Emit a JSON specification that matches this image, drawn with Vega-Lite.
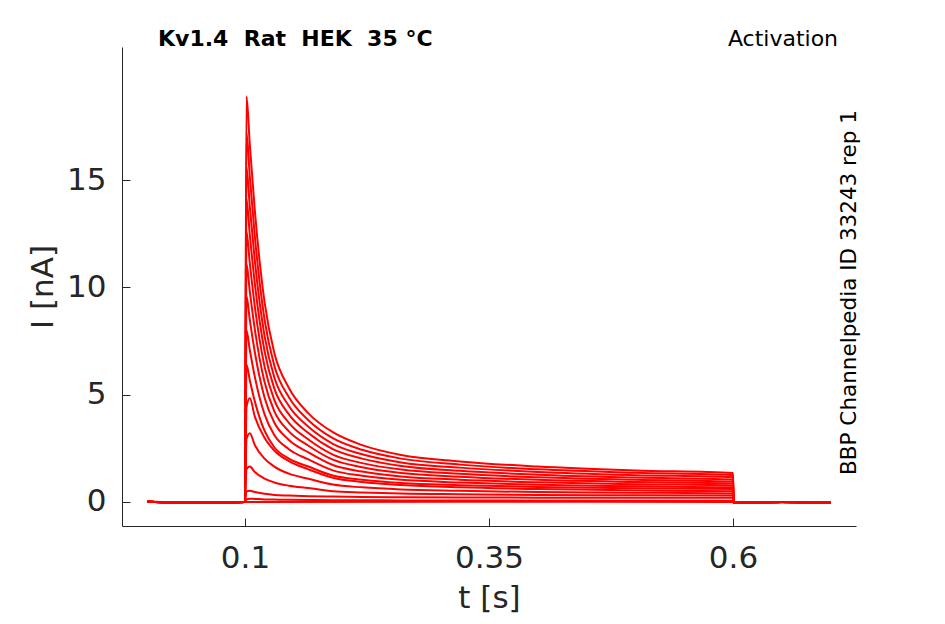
{
  "$schema": "https://vega.github.io/schema/vega-lite/v6.json",
  "width": 734,
  "height": 479,
  "autosize": "none",
  "padding": {"left": 122, "top": 47, "right": 89, "bottom": 98},
  "background": "white",
  "config": {
    "view": {"stroke": null},
    "axis": {
      "grid": false,
      "domainColor": "#262626",
      "domainWidth": 1,
      "tickColor": "#262626",
      "tickSize": -8,
      "labelColor": "#262626",
      "titleColor": "#262626",
      "labelFont": "DejaVu Sans",
      "titleFont": "DejaVu Sans",
      "labelFontSize": 31,
      "titleFontSize": 31,
      "titleFontWeight": "normal"
    }
  },
  "layer": [
    {
      "data": {
        "values": [
          {"k": 0, "t": 0, "i": 0.02}, {"k": 0, "t": 0.05, "i": -0.03}, {"k": 0, "t": 0.1, "i": 0}, {"k": 0, "t": 0.3, "i": 0.01}, {"k": 0, "t": 0.6, "i": 0}, {"k": 0, "t": 0.65, "i": -0.02}, {"k": 0, "t": 0.7, "i": 0},

          {"k": 1, "t": 0, "i": 0.01}, {"k": 1, "t": 0.05, "i": -0.04}, {"k": 1, "t": 0.1, "i": 0},
          {"k": 1, "t": 0.1015, "i": 0.12}, {"k": 1, "t": 0.105, "i": 0.15}, {"k": 1, "t": 0.11, "i": 0.14}, {"k": 1, "t": 0.12, "i": 0.12}, {"k": 1, "t": 0.13, "i": 0.11}, {"k": 1, "t": 0.145, "i": 0.10}, {"k": 1, "t": 0.165, "i": 0.09}, {"k": 1, "t": 0.19, "i": 0.08}, {"k": 1, "t": 0.22, "i": 0.08}, {"k": 1, "t": 0.26, "i": 0.07}, {"k": 1, "t": 0.32, "i": 0.07}, {"k": 1, "t": 0.4, "i": 0.06}, {"k": 1, "t": 0.5, "i": 0.06}, {"k": 1, "t": 0.6, "i": 0.06},
          {"k": 1, "t": 0.6005, "i": -0.04}, {"k": 1, "t": 0.65, "i": 0}, {"k": 1, "t": 0.7, "i": -0.03},

          {"k": 2, "t": 0, "i": 0.01}, {"k": 2, "t": 0.05, "i": -0.04}, {"k": 2, "t": 0.1, "i": 0},
          {"k": 2, "t": 0.1015, "i": 0.49}, {"k": 2, "t": 0.105, "i": 0.52}, {"k": 2, "t": 0.11, "i": 0.46}, {"k": 2, "t": 0.12, "i": 0.38}, {"k": 2, "t": 0.13, "i": 0.33}, {"k": 2, "t": 0.145, "i": 0.30}, {"k": 2, "t": 0.165, "i": 0.27}, {"k": 2, "t": 0.19, "i": 0.25}, {"k": 2, "t": 0.22, "i": 0.23}, {"k": 2, "t": 0.26, "i": 0.22}, {"k": 2, "t": 0.32, "i": 0.21}, {"k": 2, "t": 0.4, "i": 0.20}, {"k": 2, "t": 0.5, "i": 0.20}, {"k": 2, "t": 0.6, "i": 0.20},
          {"k": 2, "t": 0.6005, "i": -0.04}, {"k": 2, "t": 0.65, "i": 0}, {"k": 2, "t": 0.7, "i": -0.03},

          {"k": 3, "t": 0, "i": 0.01}, {"k": 3, "t": 0.05, "i": -0.04}, {"k": 3, "t": 0.1, "i": 0},
          {"k": 3, "t": 0.1015, "i": 1.52}, {"k": 3, "t": 0.105, "i": 1.65}, {"k": 3, "t": 0.11, "i": 1.40}, {"k": 3, "t": 0.12, "i": 1.09}, {"k": 3, "t": 0.13, "i": 0.91}, {"k": 3, "t": 0.145, "i": 0.76}, {"k": 3, "t": 0.165, "i": 0.65}, {"k": 3, "t": 0.19, "i": 0.50}, {"k": 3, "t": 0.22, "i": 0.44}, {"k": 3, "t": 0.26, "i": 0.39}, {"k": 3, "t": 0.32, "i": 0.36}, {"k": 3, "t": 0.4, "i": 0.33}, {"k": 3, "t": 0.5, "i": 0.31}, {"k": 3, "t": 0.6, "i": 0.30},
          {"k": 3, "t": 0.6005, "i": -0.04}, {"k": 3, "t": 0.65, "i": 0}, {"k": 3, "t": 0.7, "i": -0.03},

          {"k": 4, "t": 0, "i": 0.01}, {"k": 4, "t": 0.05, "i": -0.04}, {"k": 4, "t": 0.1, "i": 0},
          {"k": 4, "t": 0.1015, "i": 2.93}, {"k": 4, "t": 0.105, "i": 3.2}, {"k": 4, "t": 0.11, "i": 2.66}, {"k": 4, "t": 0.12, "i": 2.02}, {"k": 4, "t": 0.13, "i": 1.65}, {"k": 4, "t": 0.145, "i": 1.32}, {"k": 4, "t": 0.165, "i": 1.08}, {"k": 4, "t": 0.19, "i": 0.81}, {"k": 4, "t": 0.22, "i": 0.68}, {"k": 4, "t": 0.26, "i": 0.58}, {"k": 4, "t": 0.32, "i": 0.52}, {"k": 4, "t": 0.4, "i": 0.46}, {"k": 4, "t": 0.5, "i": 0.43}, {"k": 4, "t": 0.6, "i": 0.40},
          {"k": 4, "t": 0.6005, "i": -0.04}, {"k": 4, "t": 0.65, "i": 0}, {"k": 4, "t": 0.7, "i": -0.03},

          {"k": 5, "t": 0, "i": 0.01}, {"k": 5, "t": 0.05, "i": -0.04}, {"k": 5, "t": 0.1, "i": 0},
          {"k": 5, "t": 0.1015, "i": 4.41}, {"k": 5, "t": 0.105, "i": 4.83}, {"k": 5, "t": 0.11, "i": 3.99}, {"k": 5, "t": 0.12, "i": 2.99}, {"k": 5, "t": 0.13, "i": 2.40}, {"k": 5, "t": 0.145, "i": 1.90}, {"k": 5, "t": 0.165, "i": 1.52}, {"k": 5, "t": 0.19, "i": 1.13}, {"k": 5, "t": 0.22, "i": 0.93}, {"k": 5, "t": 0.26, "i": 0.79}, {"k": 5, "t": 0.32, "i": 0.68}, {"k": 5, "t": 0.4, "i": 0.60}, {"k": 5, "t": 0.5, "i": 0.54}, {"k": 5, "t": 0.6, "i": 0.50},
          {"k": 5, "t": 0.6005, "i": -0.04}, {"k": 5, "t": 0.65, "i": 0}, {"k": 5, "t": 0.7, "i": -0.03},

          {"k": 6, "t": 0, "i": 0.01}, {"k": 6, "t": 0.05, "i": -0.04}, {"k": 6, "t": 0.1, "i": 0},
          {"k": 6, "t": 0.1015, "i": 6.4}, {"k": 6, "t": 0.105, "i": 5.66}, {"k": 6, "t": 0.11, "i": 4.70}, {"k": 6, "t": 0.12, "i": 3.32}, {"k": 6, "t": 0.13, "i": 2.55}, {"k": 6, "t": 0.145, "i": 2.02}, {"k": 6, "t": 0.165, "i": 1.65}, {"k": 6, "t": 0.19, "i": 1.23}, {"k": 6, "t": 0.22, "i": 1.03}, {"k": 6, "t": 0.26, "i": 0.88}, {"k": 6, "t": 0.32, "i": 0.78}, {"k": 6, "t": 0.4, "i": 0.70}, {"k": 6, "t": 0.5, "i": 0.64}, {"k": 6, "t": 0.6, "i": 0.60},
          {"k": 6, "t": 0.6005, "i": -0.04}, {"k": 6, "t": 0.65, "i": 0}, {"k": 6, "t": 0.7, "i": -0.03},

          {"k": 7, "t": 0, "i": 0.01}, {"k": 7, "t": 0.05, "i": -0.04}, {"k": 7, "t": 0.1, "i": 0},
          {"k": 7, "t": 0.1015, "i": 8.0}, {"k": 7, "t": 0.105, "i": 7.07}, {"k": 7, "t": 0.11, "i": 5.85}, {"k": 7, "t": 0.12, "i": 4.09}, {"k": 7, "t": 0.13, "i": 3.12}, {"k": 7, "t": 0.145, "i": 2.46}, {"k": 7, "t": 0.165, "i": 1.98}, {"k": 7, "t": 0.19, "i": 1.47}, {"k": 7, "t": 0.22, "i": 1.22}, {"k": 7, "t": 0.26, "i": 1.03}, {"k": 7, "t": 0.32, "i": 0.91}, {"k": 7, "t": 0.4, "i": 0.80}, {"k": 7, "t": 0.5, "i": 0.73}, {"k": 7, "t": 0.6, "i": 0.68},
          {"k": 7, "t": 0.6005, "i": -0.04}, {"k": 7, "t": 0.65, "i": 0}, {"k": 7, "t": 0.7, "i": -0.03},

          {"k": 8, "t": 0, "i": 0.01}, {"k": 8, "t": 0.05, "i": -0.04}, {"k": 8, "t": 0.1, "i": 0},
          {"k": 8, "t": 0.1015, "i": 9.6}, {"k": 8, "t": 0.105, "i": 8.47}, {"k": 8, "t": 0.11, "i": 7.00}, {"k": 8, "t": 0.12, "i": 4.87}, {"k": 8, "t": 0.13, "i": 3.70}, {"k": 8, "t": 0.145, "i": 2.89}, {"k": 8, "t": 0.165, "i": 2.31}, {"k": 8, "t": 0.19, "i": 1.72}, {"k": 8, "t": 0.22, "i": 1.42}, {"k": 8, "t": 0.26, "i": 1.19}, {"k": 8, "t": 0.32, "i": 1.04}, {"k": 8, "t": 0.4, "i": 0.92}, {"k": 8, "t": 0.5, "i": 0.83}, {"k": 8, "t": 0.6, "i": 0.77},
          {"k": 8, "t": 0.6005, "i": -0.04}, {"k": 8, "t": 0.65, "i": 0}, {"k": 8, "t": 0.7, "i": -0.03},

          {"k": 9, "t": 0, "i": 0.01}, {"k": 9, "t": 0.05, "i": -0.04}, {"k": 9, "t": 0.1, "i": 0},
          {"k": 9, "t": 0.1015, "i": 11.1}, {"k": 9, "t": 0.105, "i": 9.79}, {"k": 9, "t": 0.11, "i": 8.07}, {"k": 9, "t": 0.12, "i": 5.60}, {"k": 9, "t": 0.13, "i": 4.23}, {"k": 9, "t": 0.145, "i": 3.29}, {"k": 9, "t": 0.165, "i": 2.62}, {"k": 9, "t": 0.19, "i": 1.97}, {"k": 9, "t": 0.22, "i": 1.62}, {"k": 9, "t": 0.26, "i": 1.35}, {"k": 9, "t": 0.32, "i": 1.18}, {"k": 9, "t": 0.4, "i": 1.03}, {"k": 9, "t": 0.5, "i": 0.93}, {"k": 9, "t": 0.6, "i": 0.86},
          {"k": 9, "t": 0.6005, "i": -0.04}, {"k": 9, "t": 0.65, "i": 0}, {"k": 9, "t": 0.7, "i": -0.03},

          {"k": 10, "t": 0, "i": 0.01}, {"k": 10, "t": 0.05, "i": -0.04}, {"k": 10, "t": 0.1, "i": 0},
          {"k": 10, "t": 0.1015, "i": 12.6}, {"k": 10, "t": 0.105, "i": 11.10}, {"k": 10, "t": 0.11, "i": 9.14}, {"k": 10, "t": 0.12, "i": 6.32}, {"k": 10, "t": 0.13, "i": 4.76}, {"k": 10, "t": 0.145, "i": 3.69}, {"k": 10, "t": 0.165, "i": 2.91}, {"k": 10, "t": 0.19, "i": 2.21}, {"k": 10, "t": 0.22, "i": 1.81}, {"k": 10, "t": 0.26, "i": 1.51}, {"k": 10, "t": 0.32, "i": 1.31}, {"k": 10, "t": 0.4, "i": 1.15}, {"k": 10, "t": 0.5, "i": 1.03}, {"k": 10, "t": 0.6, "i": 0.95},
          {"k": 10, "t": 0.6005, "i": -0.04}, {"k": 10, "t": 0.65, "i": 0}, {"k": 10, "t": 0.7, "i": -0.03},

          {"k": 11, "t": 0, "i": 0.01}, {"k": 11, "t": 0.05, "i": -0.04}, {"k": 11, "t": 0.1, "i": 0},
          {"k": 11, "t": 0.1015, "i": 14.1}, {"k": 11, "t": 0.105, "i": 12.42}, {"k": 11, "t": 0.11, "i": 10.21}, {"k": 11, "t": 0.12, "i": 7.04}, {"k": 11, "t": 0.13, "i": 5.29}, {"k": 11, "t": 0.145, "i": 4.08}, {"k": 11, "t": 0.165, "i": 3.21}, {"k": 11, "t": 0.19, "i": 2.46}, {"k": 11, "t": 0.22, "i": 2.02}, {"k": 11, "t": 0.26, "i": 1.68}, {"k": 11, "t": 0.32, "i": 1.45}, {"k": 11, "t": 0.4, "i": 1.27}, {"k": 11, "t": 0.5, "i": 1.14}, {"k": 11, "t": 0.6, "i": 1.05},
          {"k": 11, "t": 0.6005, "i": -0.04}, {"k": 11, "t": 0.65, "i": 0}, {"k": 11, "t": 0.7, "i": -0.03},

          {"k": 12, "t": 0, "i": 0.01}, {"k": 12, "t": 0.05, "i": -0.04}, {"k": 12, "t": 0.1, "i": 0},
          {"k": 12, "t": 0.1015, "i": 15.6}, {"k": 12, "t": 0.105, "i": 13.73}, {"k": 12, "t": 0.11, "i": 11.28}, {"k": 12, "t": 0.12, "i": 7.75}, {"k": 12, "t": 0.13, "i": 5.81}, {"k": 12, "t": 0.145, "i": 4.47}, {"k": 12, "t": 0.165, "i": 3.50}, {"k": 12, "t": 0.19, "i": 2.71}, {"k": 12, "t": 0.22, "i": 2.22}, {"k": 12, "t": 0.26, "i": 1.84}, {"k": 12, "t": 0.32, "i": 1.60}, {"k": 12, "t": 0.4, "i": 1.40}, {"k": 12, "t": 0.5, "i": 1.25}, {"k": 12, "t": 0.6, "i": 1.15},
          {"k": 12, "t": 0.6005, "i": -0.04}, {"k": 12, "t": 0.65, "i": 0}, {"k": 12, "t": 0.7, "i": -0.03},

          {"k": 13, "t": 0, "i": 0.01}, {"k": 13, "t": 0.05, "i": -0.04}, {"k": 13, "t": 0.1, "i": 0},
          {"k": 13, "t": 0.1015, "i": 17.2}, {"k": 13, "t": 0.105, "i": 15.13}, {"k": 13, "t": 0.11, "i": 12.42}, {"k": 13, "t": 0.12, "i": 8.51}, {"k": 13, "t": 0.13, "i": 6.36}, {"k": 13, "t": 0.145, "i": 4.88}, {"k": 13, "t": 0.165, "i": 3.81}, {"k": 13, "t": 0.19, "i": 2.97}, {"k": 13, "t": 0.22, "i": 2.43}, {"k": 13, "t": 0.26, "i": 2.02}, {"k": 13, "t": 0.32, "i": 1.74}, {"k": 13, "t": 0.4, "i": 1.52}, {"k": 13, "t": 0.5, "i": 1.36}, {"k": 13, "t": 0.6, "i": 1.25},
          {"k": 13, "t": 0.6005, "i": -0.04}, {"k": 13, "t": 0.65, "i": 0}, {"k": 13, "t": 0.7, "i": -0.03},

          {"k": 14, "t": 0, "i": 0.01}, {"k": 14, "t": 0.05, "i": -0.04}, {"k": 14, "t": 0.1, "i": 0},
          {"k": 14, "t": 0.1015, "i": 18.9}, {"k": 14, "t": 0.105, "i": 16.61}, {"k": 14, "t": 0.11, "i": 13.63}, {"k": 14, "t": 0.12, "i": 9.32}, {"k": 14, "t": 0.13, "i": 6.95}, {"k": 14, "t": 0.145, "i": 5.31}, {"k": 14, "t": 0.165, "i": 4.13}, {"k": 14, "t": 0.19, "i": 3.25}, {"k": 14, "t": 0.22, "i": 2.65}, {"k": 14, "t": 0.26, "i": 2.19}, {"k": 14, "t": 0.32, "i": 1.89}, {"k": 14, "t": 0.4, "i": 1.65}, {"k": 14, "t": 0.5, "i": 1.47}, {"k": 14, "t": 0.6, "i": 1.35},
          {"k": 14, "t": 0.6005, "i": -0.04}, {"k": 14, "t": 0.65, "i": 0}, {"k": 14, "t": 0.7, "i": -0.03}
        ]
      },
      "mark": {"type": "line", "color": "#ff0000", "strokeWidth": 2, "interpolate": "monotone"},
      "encoding": {
        "x": {
          "field": "t",
          "type": "quantitative",
          "title": "t [s]",
          "scale": {"domain": [-0.026, 0.726], "nice": false, "zero": false},
          "axis": {"values": [0.1, 0.35, 0.6], "format": ".2~f", "labelPadding": 25, "titlePadding": 10, "labelFlush": false}
        },
        "y": {
          "field": "i",
          "type": "quantitative",
          "title": "I [nA]",
          "scale": {"domain": [-1.12, 21.2], "nice": false, "zero": false},
          "axis": {"values": [0, 5, 10, 15], "labelPadding": 24, "titlePadding": 7, "labelFlush": false}
        },
        "detail": {"field": "k", "type": "nominal"}
      }
    },
    {
      "data": {"values": [{"label": "Kv1.4\u00a0 Rat\u00a0 HEK\u00a0 35 °C", "t": 0.0109, "i": 21.2}]},
      "mark": {"type": "text", "align": "left", "baseline": "alphabetic", "dy": -1, "font": "DejaVu Sans", "fontSize": 22, "fontWeight": "bold", "color": "#000000"},
      "encoding": {
        "x": {"field": "t", "type": "quantitative"},
        "y": {"field": "i", "type": "quantitative"},
        "text": {"field": "label"}
      }
    },
    {
      "data": {"values": [{"label": "Activation", "t": 0.7076, "i": 21.2}]},
      "mark": {"type": "text", "align": "right", "baseline": "alphabetic", "dy": -1, "font": "DejaVu Sans", "fontSize": 22, "color": "#000000"},
      "encoding": {
        "x": {"field": "t", "type": "quantitative"},
        "y": {"field": "i", "type": "quantitative"},
        "text": {"field": "label"}
      }
    },
    {
      "data": {"values": [{"label": "BBP Channelpedia ID 33243 rep 1", "t": 0.726, "i": 1.26}]},
      "mark": {"type": "text", "angle": 270, "align": "left", "baseline": "alphabetic", "font": "DejaVu Sans", "fontSize": 21.5, "color": "#000000"},
      "encoding": {
        "x": {"field": "t", "type": "quantitative"},
        "y": {"field": "i", "type": "quantitative"},
        "text": {"field": "label"}
      }
    }
  ]
}
